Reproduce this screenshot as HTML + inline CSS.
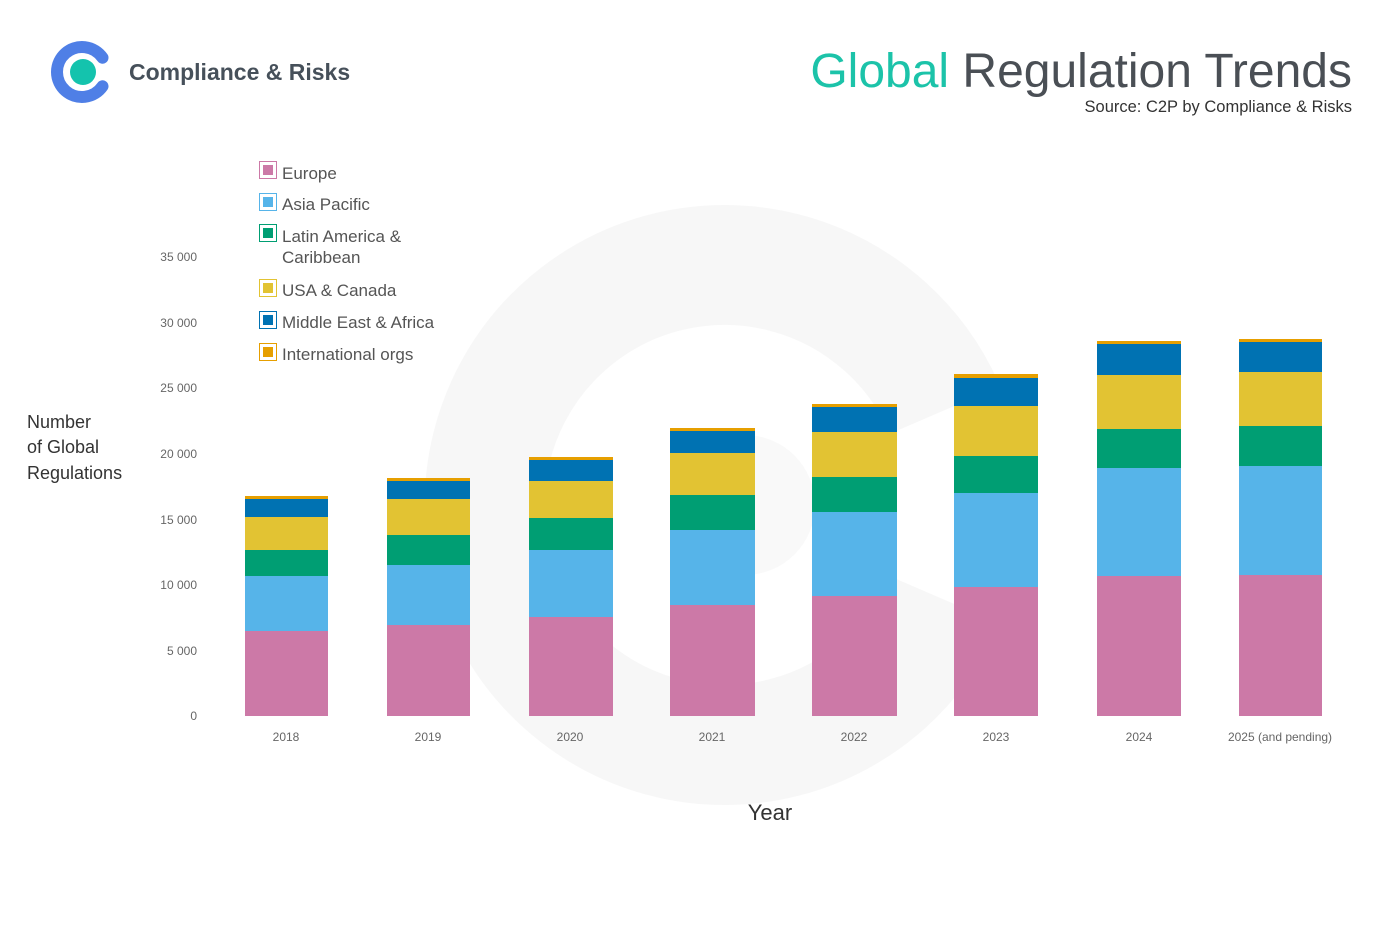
<!DOCTYPE html>
<html><head><meta charset="utf-8"><style>
body{margin:0;background:#fff}
svg{display:block}
text{font-family:"Liberation Sans",sans-serif}
</style></head><body>
<svg width="1400" height="934" viewBox="0 0 1400 934" xmlns="http://www.w3.org/2000/svg">
<rect width="1400" height="934" fill="#fff"/>
<!-- watermark -->
<g opacity="0.45">
<path d="M 945 410 A 240 240 0 1 0 945 600" fill="none" stroke="#eeeeee" stroke-width="120"/>
<circle cx="745" cy="505" r="70" fill="#f2f2f2"/>
</g>
<!-- logo -->
<path d="M 102.5 57.7 A 25 25 0 1 0 102.5 86.3" fill="none" stroke="#4f7fe6" stroke-width="12" stroke-linecap="round"/>
<circle cx="83" cy="72" r="13" fill="#14c3ad"/>
<text x="129" y="80" font-size="23" font-weight="bold" fill="#46505a">Compliance &amp; Risks</text>
<!-- title -->
<text x="1352" y="87" font-size="48" text-anchor="end" fill="#4a4f55"><tspan fill="#1cc3a9">Global</tspan> Regulation Trends</text>
<text x="1352" y="112" font-size="16.5" text-anchor="end" fill="#333">Source: C2P by Compliance &amp; Risks</text>
<!-- y axis labels -->
<g font-size="12" fill="#666" text-anchor="end">
<text x="197" y="720">0</text>
<text x="197" y="655">5 000</text>
<text x="197" y="589">10 000</text>
<text x="197" y="524">15 000</text>
<text x="197" y="458">20 000</text>
<text x="197" y="392">25 000</text>
<text x="197" y="327">30 000</text>
<text x="197" y="261">35 000</text>
</g>
<g font-size="18" fill="#333">
<text x="27" y="428">Number</text>
<text x="27" y="453">of Global</text>
<text x="27" y="479">Regulations</text>
</g>
<text x="770" y="820" font-size="22" text-anchor="middle" fill="#333">Year</text>
<!-- legend -->
<g font-size="17" fill="#555">
<rect x="259.5" y="161.5" width="17" height="17" fill="none" stroke="#cc79a7"/><rect x="263" y="165" width="10" height="10" fill="#cc79a7"/><text x="282" y="179">Europe</text>
<rect x="259.5" y="193.5" width="17" height="17" fill="none" stroke="#56b4e9"/><rect x="263" y="197" width="10" height="10" fill="#56b4e9"/><text x="282" y="210">Asia Pacific</text>
<rect x="259.5" y="224.5" width="17" height="17" fill="none" stroke="#009e73"/><rect x="263" y="228" width="10" height="10" fill="#009e73"/><text x="282" y="242">Latin America &amp;</text><text x="282" y="263">Caribbean</text>
<rect x="259.5" y="279.5" width="17" height="17" fill="none" stroke="#e2c333"/><rect x="263" y="283" width="10" height="10" fill="#e2c333"/><text x="282" y="296">USA &amp; Canada</text>
<rect x="259.5" y="311.5" width="17" height="17" fill="none" stroke="#0072b2"/><rect x="263" y="315" width="10" height="10" fill="#0072b2"/><text x="282" y="328">Middle East &amp; Africa</text>
<rect x="259.5" y="343.5" width="17" height="17" fill="none" stroke="#e69f00"/><rect x="263" y="347" width="10" height="10" fill="#e69f00"/><text x="282" y="360">International orgs</text>
</g>
<g font-size="12" fill="#666" text-anchor="middle">
<text x="286" y="741">2018</text><text x="428" y="741">2019</text><text x="570" y="741">2020</text><text x="712" y="741">2021</text><text x="854" y="741">2022</text><text x="996" y="741">2023</text><text x="1139" y="741">2024</text><text x="1280" y="741">2025 (and pending)</text>
</g>
<g>
<rect x="245" y="631" width="83" height="85" fill="#cc79a7"/><rect x="245" y="576" width="83" height="55" fill="#56b4e9"/><rect x="245" y="550" width="83" height="26" fill="#009e73"/><rect x="245" y="517" width="83" height="33" fill="#e2c333"/><rect x="245" y="499" width="83" height="18" fill="#0072b2"/><rect x="245" y="496" width="83" height="3" fill="#e69f00"/>
<rect x="387" y="625" width="83" height="91" fill="#cc79a7"/><rect x="387" y="565" width="83" height="60" fill="#56b4e9"/><rect x="387" y="535" width="83" height="30" fill="#009e73"/><rect x="387" y="499" width="83" height="36" fill="#e2c333"/><rect x="387" y="481" width="83" height="18" fill="#0072b2"/><rect x="387" y="478" width="83" height="3" fill="#e69f00"/>
<rect x="529" y="617" width="84" height="99" fill="#cc79a7"/><rect x="529" y="550" width="84" height="67" fill="#56b4e9"/><rect x="529" y="518" width="84" height="32" fill="#009e73"/><rect x="529" y="481" width="84" height="37" fill="#e2c333"/><rect x="529" y="460" width="84" height="21" fill="#0072b2"/><rect x="529" y="457" width="84" height="3" fill="#e69f00"/>
<rect x="670" y="605" width="85" height="111" fill="#cc79a7"/><rect x="670" y="530" width="85" height="75" fill="#56b4e9"/><rect x="670" y="495" width="85" height="35" fill="#009e73"/><rect x="670" y="453" width="85" height="42" fill="#e2c333"/><rect x="670" y="431" width="85" height="22" fill="#0072b2"/><rect x="670" y="428" width="85" height="3" fill="#e69f00"/>
<rect x="812" y="596" width="85" height="120" fill="#cc79a7"/><rect x="812" y="512" width="85" height="84" fill="#56b4e9"/><rect x="812" y="477" width="85" height="35" fill="#009e73"/><rect x="812" y="432" width="85" height="45" fill="#e2c333"/><rect x="812" y="407" width="85" height="25" fill="#0072b2"/><rect x="812" y="404" width="85" height="3" fill="#e69f00"/>
<rect x="954" y="587" width="84" height="129" fill="#cc79a7"/><rect x="954" y="493" width="84" height="94" fill="#56b4e9"/><rect x="954" y="456" width="84" height="37" fill="#009e73"/><rect x="954" y="406" width="84" height="50" fill="#e2c333"/><rect x="954" y="378" width="84" height="28" fill="#0072b2"/><rect x="954" y="374" width="84" height="4" fill="#e69f00"/>
<rect x="1097" y="576" width="84" height="140" fill="#cc79a7"/><rect x="1097" y="468" width="84" height="108" fill="#56b4e9"/><rect x="1097" y="429" width="84" height="39" fill="#009e73"/><rect x="1097" y="375" width="84" height="54" fill="#e2c333"/><rect x="1097" y="344" width="84" height="31" fill="#0072b2"/><rect x="1097" y="341" width="84" height="3" fill="#e69f00"/>
<rect x="1239" y="575" width="83" height="141" fill="#cc79a7"/><rect x="1239" y="466" width="83" height="109" fill="#56b4e9"/><rect x="1239" y="426" width="83" height="40" fill="#009e73"/><rect x="1239" y="372" width="83" height="54" fill="#e2c333"/><rect x="1239" y="342" width="83" height="30" fill="#0072b2"/><rect x="1239" y="339" width="83" height="3" fill="#e69f00"/>
</g>
</svg>
</body></html>
